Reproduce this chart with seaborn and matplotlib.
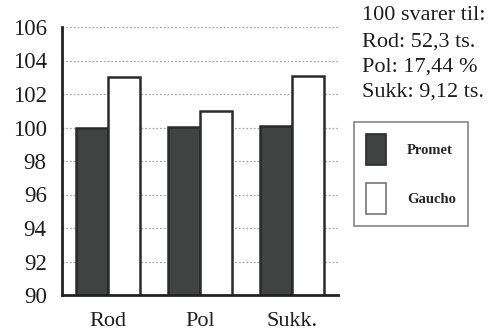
import matplotlib
matplotlib.use("Agg")
import matplotlib.pyplot as plt
import seaborn as sns
import pandas as pd
from matplotlib.patches import Patch

categories = ["Rod", "Pol", "Sukk."]
promet = [100.0, 100.05, 100.1]
gaucho = [103.0, 101.0, 103.1]
series = ["Promet", "Gaucho"]
yticks = [90, 92, 94, 96, 98, 100, 102, 104, 106]
note_lines = ["100 svarer til:", "Rod: 52,3 ts.", "Pol: 17,44 %", "Sukk: 9,12 ts."]

df = pd.DataFrame({
    "cat": categories * 2,
    "val": promet + gaucho,
    "serie": [series[0]] * 3 + [series[1]] * 3,
})

sns.set_style("white")
plt.rcParams["font.family"] = ["Liberation Serif", "DejaVu Serif"]

W, H = 497, 334
fig = plt.figure(figsize=(W / 100, H / 100), dpi=100)
ax = fig.add_axes([62 / W, 1 - 295 / H, (338 - 62) / W, (295 - 27) / H])

dark = "#404342"
sns.barplot(data=df, x="cat", y="val", hue="serie", order=categories,
            hue_order=series, palette=[dark, "white"], width=0.7,
            edgecolor="#2a2a2a", linewidth=1.8, ax=ax, legend=False,
            zorder=3)

ax.set_ylim(90, 106)
ax.set_xlim(-0.5, 2.5)
ax.set_yticks(yticks)
ax.set_yticklabels([str(t) for t in yticks], fontsize=16.5, color="#1e1e1e")
ax.set_xticks(range(3))
ax.set_xticklabels(categories, fontsize=16, color="#1e1e1e")
ax.tick_params(axis="y", length=0, pad=11)
ax.tick_params(axis="x", length=0, pad=12)
ax.set_xlabel("")
ax.set_ylabel("")
ax.yaxis.grid(True, color="#a8a8a8", linestyle=(0, (1.5, 1.5)), linewidth=0.9, zorder=0)
ax.set_axisbelow(True)
for s in ["top", "right"]:
    ax.spines[s].set_visible(False)
for s in ["left", "bottom"]:
    ax.spines[s].set_color("#222222")
    ax.spines[s].set_linewidth(2.0)
    ax.spines[s].set_zorder(5)

# note text
ys = [15, 42, 67, 92]
for line, yy in zip(note_lines, ys):
    fig.text(362 / W, 1 - yy / H, line, fontsize=16, va="center", ha="left", color="#1e1e1e")

handles = [Patch(facecolor=dark, edgecolor="#2a2a2a", linewidth=1.2),
           Patch(facecolor="white", edgecolor="#777777", linewidth=1.2)]
leg = fig.legend(handles, series, loc="upper left",
                 bbox_to_anchor=(354 / W, 1 - 122 / H),
                 bbox_transform=fig.transFigure,
                 fancybox=False, frameon=True, borderaxespad=0,
                 prop={"family": ["Liberation Serif"], "size": 10.5, "weight": "bold"},
                 handlelength=1.37, handleheight=2.9, handletextpad=1.4,
                 labelspacing=1.2, borderpad=0.85)
leg.get_frame().set_edgecolor("#666666")
leg.get_frame().set_linewidth(1.2)

fig.savefig("out.png", dpi=100)
